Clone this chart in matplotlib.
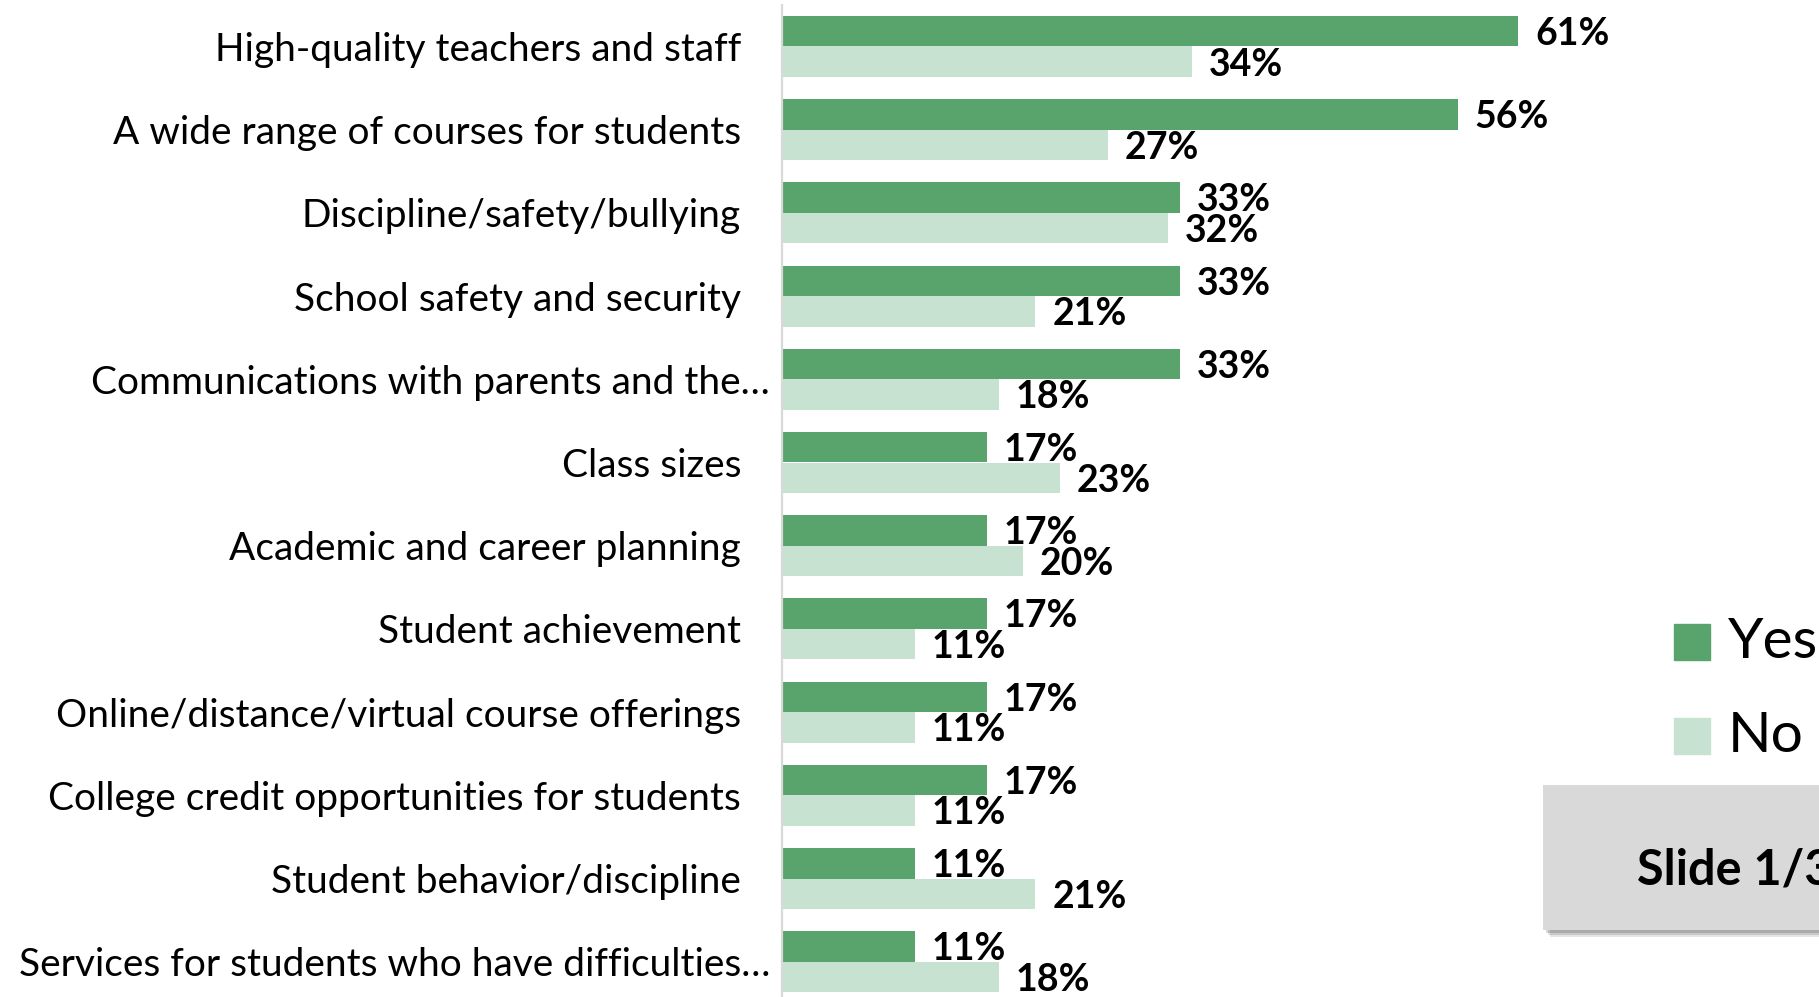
import matplotlib
matplotlib.use("Agg")
import matplotlib.pyplot as plt
from matplotlib.patches import Rectangle
import numpy as np

plt.rcParams["font.family"] = ["Lato", "DejaVu Sans"]

# Data
categories = [
    "High-quality teachers and staff",
    "A wide range of courses for students",
    "Discipline/safety/bullying",
    "School safety and security",
    "Communications with parents and the…",
    "Class sizes",
    "Academic and career planning",
    "Student achievement",
    "Online/distance/virtual course offerings",
    "College credit opportunities for students",
    "Student behavior/discipline",
    "Services for students who have difficulties…",
]
yes_vals = [61, 56, 33, 33, 33, 17, 17, 17, 17, 17, 11, 11]
no_vals = [34, 27, 32, 21, 18, 23, 20, 11, 11, 11, 21, 18]
series_names = ["Yes", "No"]

yes_color = "#58A46C"
no_color = "#C8E2D2"

W, H = 1819, 997
fig = plt.figure(figsize=(W / 100, H / 100), dpi=100)


def fx(x):
    return x / W


def fy(y):
    return 1 - y / H


# Axes placed in pixel terms
ax_top = 4.9
row_step = 83.2
ax = fig.add_axes([fx(782), fy(ax_top + 12 * row_step), 70 * 12.07 / W, 12 * row_step / H])

y = np.arange(len(categories))
bh = 0.367
bars_yes = ax.barh(y - bh / 2, yes_vals, height=bh, color=yes_color)
bars_no = ax.barh(y + bh / 2, no_vals, height=bh, color=no_color)

ax.set_xlim(0, 70)
ax.set_ylim(len(categories) - 0.5, -0.5)

for bars, vals in [(bars_yes, yes_vals), (bars_no, no_vals)]:
    for b, v in zip(bars, vals):
        ax.annotate(f"{v}%", (b.get_width(), b.get_y() + b.get_height() / 2),
                    xytext=(12, -2), textcoords="offset points",
                    ha="left", va="center", fontsize=27, fontweight="bold",
                    color="black", annotation_clip=False)

ax.set_yticks(y)
ax.set_yticklabels(categories, fontsize=28)
ax.tick_params(axis="y", length=0, pad=29.5)
ax.tick_params(axis="x", bottom=False, labelbottom=False)
for i, tick in enumerate(ax.yaxis.get_major_ticks()):
    if categories[i].endswith("…"):
        tick.set_pad(8.5)

for s in ["top", "right", "bottom"]:
    ax.spines[s].set_visible(False)
ax.spines["left"].set_color("#D9D9D9")
ax.spines["left"].set_linewidth(1.6)

# Legend (drawn by hand, partly off the right edge)
for name, col, cy in [(series_names[0], yes_color, 642), (series_names[1], no_color, 736)]:
    fig.add_artist(Rectangle((fx(1674), fy(cy + 18)), 36 / W, 36 / H,
                             transform=fig.transFigure, color=col))
    fig.text(fx(1728), fy(cy), name, fontsize=41, va="center", ha="left")

# "Slide" box with a soft shadow
for k, a in enumerate([0.10, 0.12, 0.15]):
    off = 7 - 2 * k
    fig.add_artist(Rectangle((fx(1543 + off), fy(930 + off)), (W - 1543) / W, 145 / H,
                             transform=fig.transFigure, color="black", alpha=a, lw=0))
fig.add_artist(Rectangle((fx(1543), fy(930)), (W - 1543) / W, 145 / H,
                         transform=fig.transFigure, color="#D9D9D9", lw=0))
fig.text(fx(1637), fy(870), "Slide 1/3", fontsize=35, fontweight="bold",
         va="center", ha="left")

fig.savefig("out.png", dpi=100)
